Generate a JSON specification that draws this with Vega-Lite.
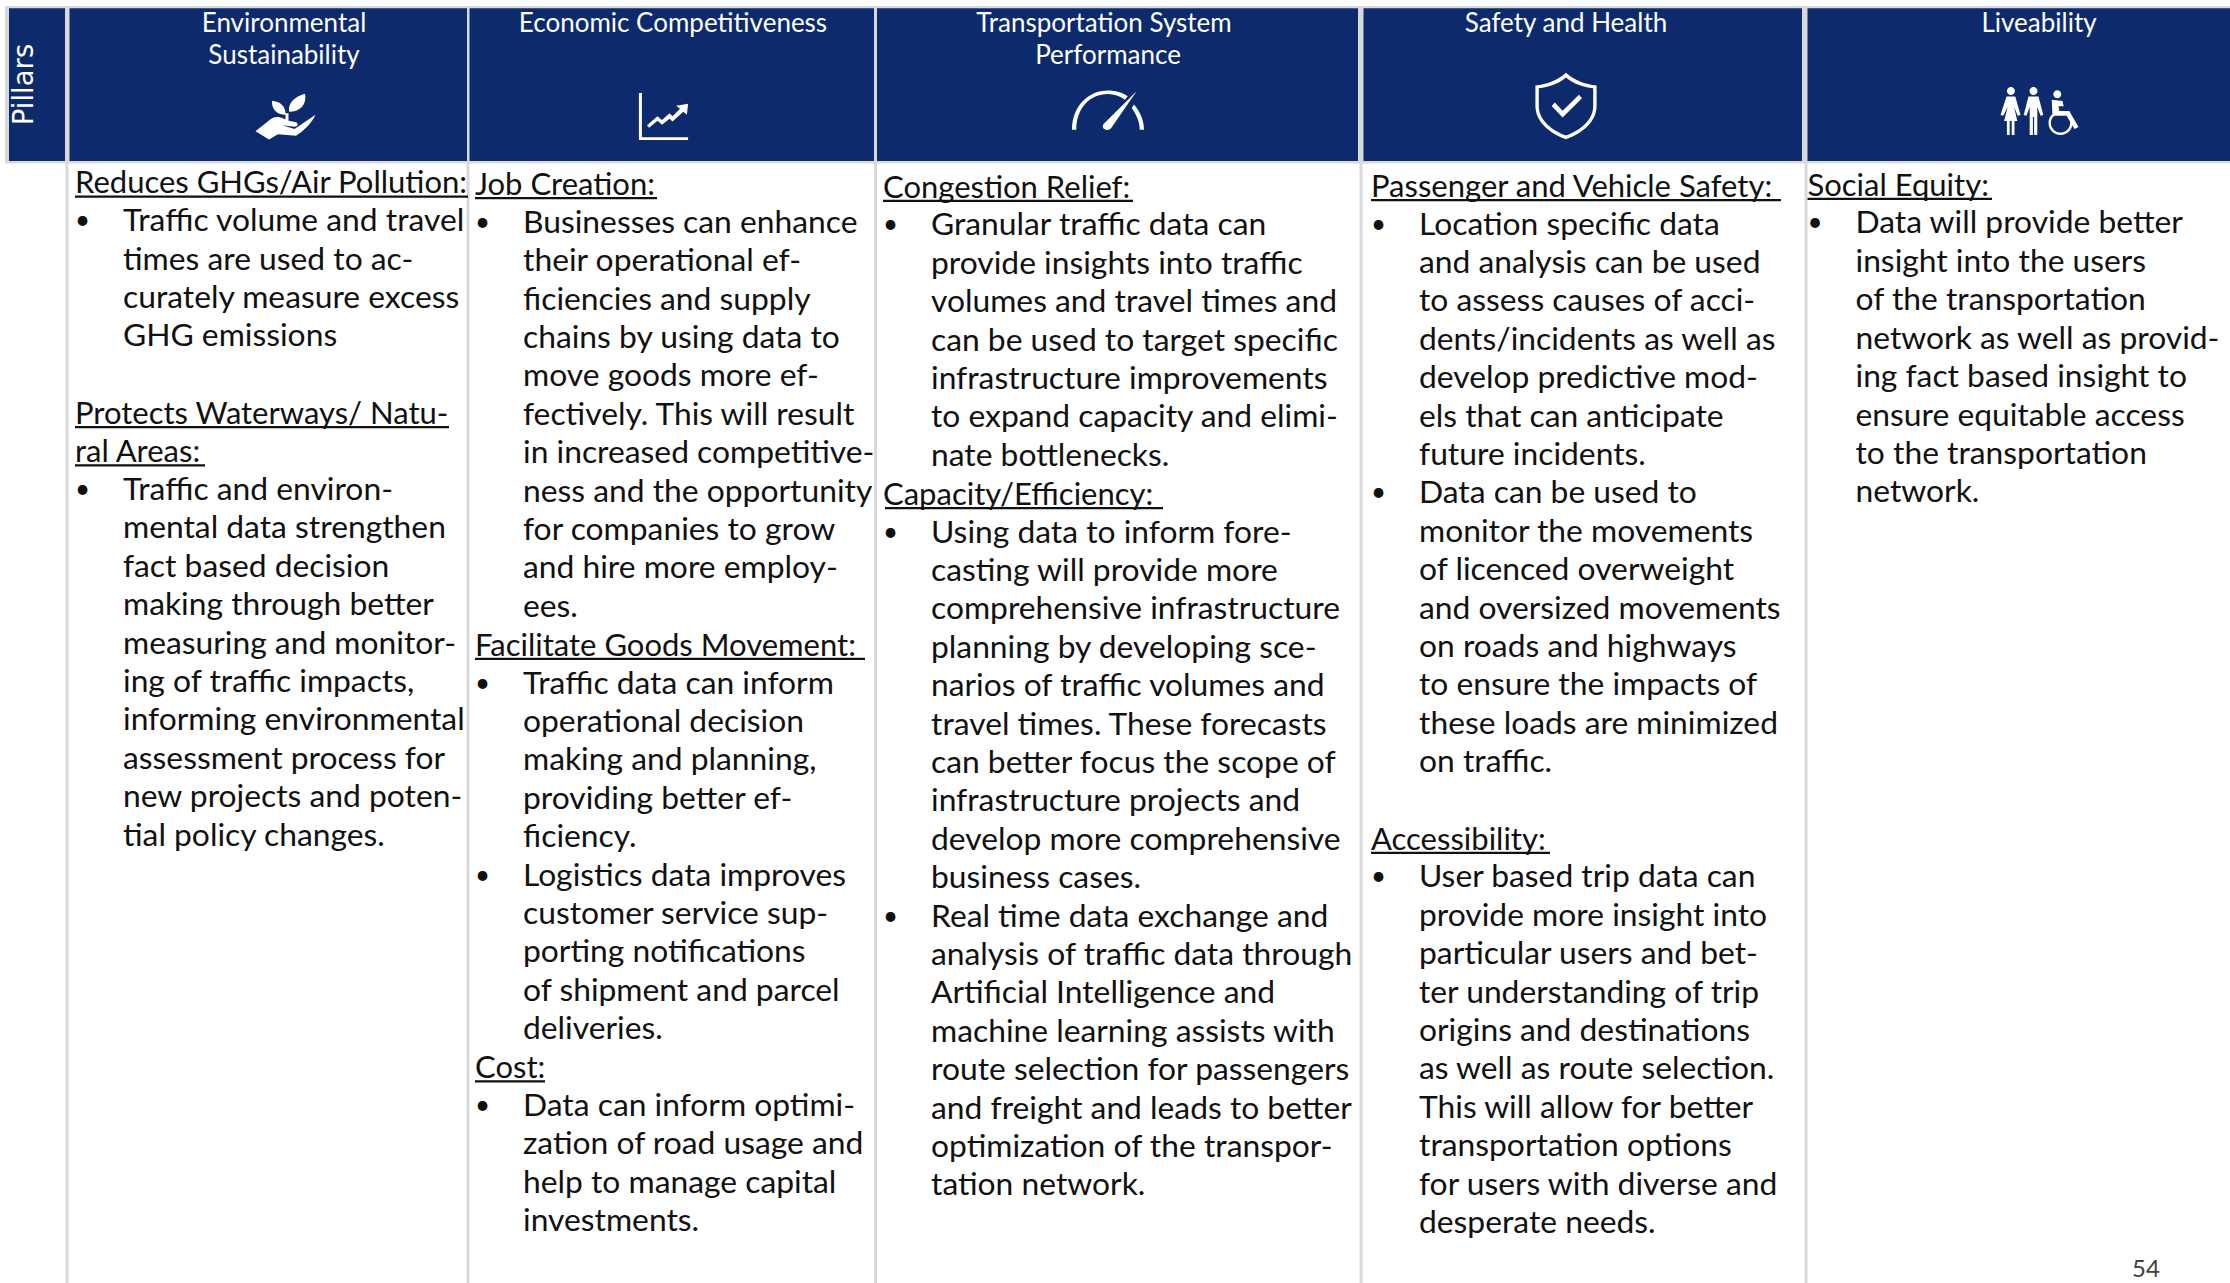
{
"$schema":"https://vega.github.io/schema/vega-lite/v6.json",
"width":2230,"height":1283,"padding":0,"autosize":{"type":"none"},"background":"white",
"config":{"view":{"stroke":null}},
"datasets":{
"pillars":[
{"pillar":"Pillars","left":9,"right":65},
{"pillar":"Environmental Sustainability","left":69.5,"right":467,"divider":67,"textLeft":75},
{"pillar":"Economic Competitiveness","left":469.5,"right":874,"divider":468,"textLeft":475},
{"pillar":"Transportation System Performance","left":877,"right":1358,"divider":875.5,"textLeft":883},
{"pillar":"Safety and Health","left":1363.5,"right":1802,"divider":1361,"textLeft":1371},
{"pillar":"Liveability","left":1807.5,"right":2230,"divider":1806,"textLeft":1807.5}
],
"headerLines":[
{"text":"Environmental","center":284,"line":0.59},
{"text":"Sustainability","center":284,"line":1.42},
{"text":"Economic Competitiveness","center":673,"line":0.59},
{"text":"Transportation System","center":1104,"line":0.59},
{"text":"Performance","center":1108,"line":1.42},
{"text":"Safety and Health","center":1566,"line":0.59},
{"text":"Liveability","center":2039,"line":0.59}
],
"icons":[
{"icon":"plant","center":285.5,"line":3.03},
{"icon":"chart","center":663.5,"line":3.03},
{"icon":"gauge","center":1108,"line":2.86},
{"icon":"shield","center":1566,"line":2.76},
{"icon":"people","center":2040.5,"line":2.89}
],
"underlines":[
{"from":75,"to":468,"line":5.12},
{"from":75,"to":449,"line":11.12},
{"from":75,"to":205,"line":12.12},
{"from":475,"to":657,"line":5.16},
{"from":475,"to":865,"line":17.16},
{"from":475,"to":545,"line":28.16},
{"from":883,"to":1133,"line":5.23},
{"from":885,"to":1163,"line":13.23},
{"from":1371,"to":1781,"line":5.21},
{"from":1371,"to":1550,"line":22.21},
{"from":1807.5,"to":1992,"line":5.18}
],
"lines":[
{"pillar":"Environmental Sustainability","kind":"heading","line":4.76,"text":"Reduces GHGs/Air Pollution:"},
{"pillar":"Environmental Sustainability","kind":"bullet","line":5.76,"text":"Traffic volume and travel"},
{"pillar":"Environmental Sustainability","kind":"body","line":6.76,"text":"times are used to ac-"},
{"pillar":"Environmental Sustainability","kind":"body","line":7.76,"text":"curately measure excess"},
{"pillar":"Environmental Sustainability","kind":"body","line":8.76,"text":"GHG emissions"},
{"pillar":"Environmental Sustainability","kind":"heading","line":10.76,"text":"Protects Waterways/ Natu-"},
{"pillar":"Environmental Sustainability","kind":"heading","line":11.76,"text":"ral Areas:"},
{"pillar":"Environmental Sustainability","kind":"bullet","line":12.76,"text":"Traffic and environ-"},
{"pillar":"Environmental Sustainability","kind":"body","line":13.76,"text":"mental data strengthen"},
{"pillar":"Environmental Sustainability","kind":"body","line":14.76,"text":"fact based decision"},
{"pillar":"Environmental Sustainability","kind":"body","line":15.76,"text":"making through better"},
{"pillar":"Environmental Sustainability","kind":"body","line":16.76,"text":"measuring and monitor-"},
{"pillar":"Environmental Sustainability","kind":"body","line":17.76,"text":"ing of traffic impacts,"},
{"pillar":"Environmental Sustainability","kind":"body","line":18.76,"text":"informing environmental"},
{"pillar":"Environmental Sustainability","kind":"body","line":19.76,"text":"assessment process for"},
{"pillar":"Environmental Sustainability","kind":"body","line":20.76,"text":"new projects and poten-"},
{"pillar":"Environmental Sustainability","kind":"body","line":21.76,"text":"tial policy changes."},
{"pillar":"Economic Competitiveness","kind":"heading","line":4.8,"text":"Job Creation:"},
{"pillar":"Economic Competitiveness","kind":"bullet","line":5.8,"text":"Businesses can enhance"},
{"pillar":"Economic Competitiveness","kind":"body","line":6.8,"text":"their operational ef-"},
{"pillar":"Economic Competitiveness","kind":"body","line":7.8,"text":"ficiencies and supply"},
{"pillar":"Economic Competitiveness","kind":"body","line":8.8,"text":"chains by using data to"},
{"pillar":"Economic Competitiveness","kind":"body","line":9.8,"text":"move goods more ef-"},
{"pillar":"Economic Competitiveness","kind":"body","line":10.8,"text":"fectively. This will result"},
{"pillar":"Economic Competitiveness","kind":"body","line":11.8,"text":"in increased competitive-"},
{"pillar":"Economic Competitiveness","kind":"body","line":12.8,"text":"ness and the opportunity"},
{"pillar":"Economic Competitiveness","kind":"body","line":13.8,"text":"for companies to grow"},
{"pillar":"Economic Competitiveness","kind":"body","line":14.8,"text":"and hire more employ-"},
{"pillar":"Economic Competitiveness","kind":"body","line":15.8,"text":"ees."},
{"pillar":"Economic Competitiveness","kind":"heading","line":16.8,"text":"Facilitate Goods Movement:"},
{"pillar":"Economic Competitiveness","kind":"bullet","line":17.8,"text":"Traffic data can inform"},
{"pillar":"Economic Competitiveness","kind":"body","line":18.8,"text":"operational decision"},
{"pillar":"Economic Competitiveness","kind":"body","line":19.8,"text":"making and planning,"},
{"pillar":"Economic Competitiveness","kind":"body","line":20.8,"text":"providing better ef-"},
{"pillar":"Economic Competitiveness","kind":"body","line":21.8,"text":"ficiency."},
{"pillar":"Economic Competitiveness","kind":"bullet","line":22.8,"text":"Logistics data improves"},
{"pillar":"Economic Competitiveness","kind":"body","line":23.8,"text":"customer service sup-"},
{"pillar":"Economic Competitiveness","kind":"body","line":24.8,"text":"porting notifications"},
{"pillar":"Economic Competitiveness","kind":"body","line":25.8,"text":"of shipment and parcel"},
{"pillar":"Economic Competitiveness","kind":"body","line":26.8,"text":"deliveries."},
{"pillar":"Economic Competitiveness","kind":"heading","line":27.8,"text":"Cost:"},
{"pillar":"Economic Competitiveness","kind":"bullet","line":28.8,"text":"Data can inform optimi-"},
{"pillar":"Economic Competitiveness","kind":"body","line":29.8,"text":"zation of road usage and"},
{"pillar":"Economic Competitiveness","kind":"body","line":30.8,"text":"help to manage capital"},
{"pillar":"Economic Competitiveness","kind":"body","line":31.8,"text":"investments."},
{"pillar":"Transportation System Performance","kind":"heading","line":4.87,"text":"Congestion Relief:"},
{"pillar":"Transportation System Performance","kind":"bullet","line":5.87,"text":"Granular traffic data can"},
{"pillar":"Transportation System Performance","kind":"body","line":6.87,"text":"provide insights into traffic"},
{"pillar":"Transportation System Performance","kind":"body","line":7.87,"text":"volumes and travel times and"},
{"pillar":"Transportation System Performance","kind":"body","line":8.87,"text":"can be used to target specific"},
{"pillar":"Transportation System Performance","kind":"body","line":9.87,"text":"infrastructure improvements"},
{"pillar":"Transportation System Performance","kind":"body","line":10.87,"text":"to expand capacity and elimi-"},
{"pillar":"Transportation System Performance","kind":"body","line":11.87,"text":"nate bottlenecks."},
{"pillar":"Transportation System Performance","kind":"heading","line":12.87,"text":" Capacity/Efficiency:"},
{"pillar":"Transportation System Performance","kind":"bullet","line":13.87,"text":"Using data to inform fore-"},
{"pillar":"Transportation System Performance","kind":"body","line":14.87,"text":"casting will provide more"},
{"pillar":"Transportation System Performance","kind":"body","line":15.87,"text":"comprehensive infrastructure"},
{"pillar":"Transportation System Performance","kind":"body","line":16.87,"text":"planning by developing sce-"},
{"pillar":"Transportation System Performance","kind":"body","line":17.87,"text":"narios of traffic volumes and"},
{"pillar":"Transportation System Performance","kind":"body","line":18.87,"text":"travel times. These forecasts"},
{"pillar":"Transportation System Performance","kind":"body","line":19.87,"text":"can better focus the scope of"},
{"pillar":"Transportation System Performance","kind":"body","line":20.87,"text":"infrastructure projects and"},
{"pillar":"Transportation System Performance","kind":"body","line":21.87,"text":"develop more comprehensive"},
{"pillar":"Transportation System Performance","kind":"body","line":22.87,"text":"business cases."},
{"pillar":"Transportation System Performance","kind":"bullet","line":23.87,"text":"Real time data exchange and"},
{"pillar":"Transportation System Performance","kind":"body","line":24.87,"text":"analysis of traffic data through"},
{"pillar":"Transportation System Performance","kind":"body","line":25.87,"text":"Artificial Intelligence and"},
{"pillar":"Transportation System Performance","kind":"body","line":26.87,"text":"machine learning assists with"},
{"pillar":"Transportation System Performance","kind":"body","line":27.87,"text":"route selection for passengers"},
{"pillar":"Transportation System Performance","kind":"body","line":28.87,"text":"and freight and leads to better"},
{"pillar":"Transportation System Performance","kind":"body","line":29.87,"text":"optimization of the transpor-"},
{"pillar":"Transportation System Performance","kind":"body","line":30.87,"text":"tation network."},
{"pillar":"Safety and Health","kind":"heading","line":4.85,"text":"Passenger and Vehicle Safety:"},
{"pillar":"Safety and Health","kind":"bullet","line":5.85,"text":"Location specific data"},
{"pillar":"Safety and Health","kind":"body","line":6.85,"text":"and analysis can be used"},
{"pillar":"Safety and Health","kind":"body","line":7.85,"text":"to assess causes of acci-"},
{"pillar":"Safety and Health","kind":"body","line":8.85,"text":"dents/incidents as well as"},
{"pillar":"Safety and Health","kind":"body","line":9.85,"text":"develop predictive mod-"},
{"pillar":"Safety and Health","kind":"body","line":10.85,"text":"els that can anticipate"},
{"pillar":"Safety and Health","kind":"body","line":11.85,"text":"future incidents."},
{"pillar":"Safety and Health","kind":"bullet","line":12.85,"text":"Data can be used to"},
{"pillar":"Safety and Health","kind":"body","line":13.85,"text":"monitor the movements"},
{"pillar":"Safety and Health","kind":"body","line":14.85,"text":"of licenced overweight"},
{"pillar":"Safety and Health","kind":"body","line":15.85,"text":"and oversized movements"},
{"pillar":"Safety and Health","kind":"body","line":16.85,"text":"on roads and highways"},
{"pillar":"Safety and Health","kind":"body","line":17.85,"text":"to ensure the impacts of"},
{"pillar":"Safety and Health","kind":"body","line":18.85,"text":"these loads are minimized"},
{"pillar":"Safety and Health","kind":"body","line":19.85,"text":"on traffic."},
{"pillar":"Safety and Health","kind":"heading","line":21.85,"text":"Accessibility:"},
{"pillar":"Safety and Health","kind":"bullet","line":22.85,"text":"User based trip data can"},
{"pillar":"Safety and Health","kind":"body","line":23.85,"text":"provide more insight into"},
{"pillar":"Safety and Health","kind":"body","line":24.85,"text":"particular users and bet-"},
{"pillar":"Safety and Health","kind":"body","line":25.85,"text":"ter understanding of trip"},
{"pillar":"Safety and Health","kind":"body","line":26.85,"text":"origins and destinations"},
{"pillar":"Safety and Health","kind":"body","line":27.85,"text":"as well as route selection."},
{"pillar":"Safety and Health","kind":"body","line":28.85,"text":"This will allow for better"},
{"pillar":"Safety and Health","kind":"body","line":29.85,"text":"transportation options"},
{"pillar":"Safety and Health","kind":"body","line":30.85,"text":"for users with diverse and"},
{"pillar":"Safety and Health","kind":"body","line":31.85,"text":"desperate needs."},
{"pillar":"Liveability","kind":"heading","line":4.82,"text":"Social Equity:"},
{"pillar":"Liveability","kind":"bullet","line":5.82,"text":"Data will provide better"},
{"pillar":"Liveability","kind":"body","line":6.82,"text":"insight into the users"},
{"pillar":"Liveability","kind":"body","line":7.82,"text":"of the transportation"},
{"pillar":"Liveability","kind":"body","line":8.82,"text":"network as well as provid-"},
{"pillar":"Liveability","kind":"body","line":9.82,"text":"ing fact based insight to"},
{"pillar":"Liveability","kind":"body","line":10.82,"text":"ensure equitable access"},
{"pillar":"Liveability","kind":"body","line":11.82,"text":"to the transportation"},
{"pillar":"Liveability","kind":"body","line":12.82,"text":"network."}
]
},
"layer":[
{"data":{"values":[{"band":"header"}]},"mark":{"type":"rect","fill":"#d9d9d9"},
 "encoding":{"x":{"datum":5,"type":"quantitative","scale":{"domain":[0,2230],"nice":false,"zero":false},"axis":null},"x2":{"datum":2230},
 "y":{"datum":0.156,"type":"quantitative","scale":{"domain":[0,33.41],"reverse":true,"nice":false,"zero":false},"axis":null},"y2":{"datum":4.26}}},
{"data":{"name":"pillars"},"transform":[{"filter":"isValid(datum.divider)"}],"mark":{"type":"rule","stroke":"#d9d9d9","strokeWidth":3},
 "encoding":{"x":{"field":"divider","type":"quantitative","scale":{"domain":[0,2230],"nice":false,"zero":false},"axis":null},
 "y":{"datum":4.2,"type":"quantitative","scale":{"domain":[0,33.41],"reverse":true,"nice":false,"zero":false},"axis":null},"y2":{"datum":33.41}}},
{"data":{"name":"pillars"},"mark":{"type":"rect","fill":"#0d2a6d"},
 "encoding":{"x":{"field":"left","type":"quantitative","scale":{"domain":[0,2230],"nice":false,"zero":false},"axis":null},"x2":{"field":"right"},
 "y":{"datum":0.216,"type":"quantitative","scale":{"domain":[0,33.41],"reverse":true,"nice":false,"zero":false},"axis":null},"y2":{"datum":4.19}}},
{"data":{"values":[{"label":"Pillars"}]},"mark":{"type":"text","font":"DejaVu Sans","fontSize":27.5,"angle":270,"align":"center","baseline":"middle","color":"white"},
 "encoding":{"x":{"datum":25,"type":"quantitative","scale":{"domain":[0,2230],"nice":false,"zero":false},"axis":null},
 "y":{"datum":2.2,"type":"quantitative","scale":{"domain":[0,33.41],"reverse":true,"nice":false,"zero":false},"axis":null},"text":{"field":"label"}}},
{"data":{"name":"headerLines"},"mark":{"type":"text","font":"Lato","fontSize":26,"align":"center","baseline":"middle","dy":1,"color":"white"},
 "encoding":{"x":{"field":"center","type":"quantitative","scale":{"domain":[0,2230],"nice":false,"zero":false},"axis":null},
 "y":{"field":"line","type":"quantitative","scale":{"domain":[0,33.41],"reverse":true,"nice":false,"zero":false},"axis":null},"text":{"field":"text"}}},
{"data":{"name":"icons"},"transform":[{"filter":"datum.icon==='plant'"}],"mark":{"type":"point","filled":true,"fill":"white","stroke":null,"opacity":1,"size":3600,
 "shape":"M-0.45 -0.52C-0.2 -0.5 0.02 -0.35 0 -0.05C-0.3 -0.05 -0.47 -0.25 -0.45 -0.52ZM0.65 -0.75C0.72 -0.4 0.5 -0.15 0.12 -0.15C0.08 -0.45 0.3 -0.65 0.65 -0.75ZM0 -0.1L0.1 -0.1L0.1 0.15L0 0.15ZM-1 0.5L-0.5 0.1C-0.3 -0.05 -0.1 0.05 0.1 0.15L0.35 0.2C0.45 0.25 0.4 0.35 0.3 0.35L-0.1 0.3L0.3 0.42L1 -0.05C0.9 0.2 0.6 0.5 0.35 0.65L-0.25 0.6L-0.55 0.77Z"},
 "encoding":{"x":{"field":"center","type":"quantitative","scale":{"domain":[0,2230],"nice":false,"zero":false},"axis":null},
 "y":{"field":"line","type":"quantitative","scale":{"domain":[0,33.41],"reverse":true,"nice":false,"zero":false},"axis":null}}},
{"data":{"name":"icons"},"transform":[{"filter":"datum.icon==='chart'"}],"mark":{"type":"point","filled":true,"fill":"white","stroke":null,"opacity":1,"size":3600,
 "shape":"M-0.82 -0.78L-0.72 -0.78L-0.72 0.7L0.82 0.7L0.82 0.79L-0.82 0.79ZM-0.55 0.3L-0.2 0L-0.05 0.12L0.2 -0.1L0.3 0L0.55 -0.25L0.42 -0.35L0.82 -0.42L0.78 -0.05L0.66 -0.15L0.3 0.17L0.2 0.08L-0.05 0.28L-0.2 0.15L-0.48 0.38Z"},
 "encoding":{"x":{"field":"center","type":"quantitative","scale":{"domain":[0,2230],"nice":false,"zero":false},"axis":null},
 "y":{"field":"line","type":"quantitative","scale":{"domain":[0,33.41],"reverse":true,"nice":false,"zero":false},"axis":null}}},
{"data":{"name":"icons"},"transform":[{"filter":"datum.icon==='gauge'"}],"mark":{"type":"point","filled":true,"fill":"white","stroke":null,"opacity":1,"size":5184,
 "shape":"M-1 0.55C-1 -0.1 -0.55 -0.54 0 -0.54C0.2 -0.54 0.4 -0.48 0.55 -0.38L0.47 -0.28C0.33 -0.38 0.17 -0.44 0 -0.44C-0.5 -0.44 -0.88 -0.05 -0.88 0.55ZM0.72 -0.15C0.9 0.05 1 0.3 1 0.55L0.88 0.55C0.88 0.35 0.8 0.15 0.66 -0.05ZM0.8 -0.52L0.08 0.52C0 0.6 -0.2 0.55 -0.13 0.4Z"},
 "encoding":{"x":{"field":"center","type":"quantitative","scale":{"domain":[0,2230],"nice":false,"zero":false},"axis":null},
 "y":{"field":"line","type":"quantitative","scale":{"domain":[0,33.41],"reverse":true,"nice":false,"zero":false},"axis":null}}},
{"data":{"name":"icons"},"transform":[{"filter":"datum.icon==='shield'"}],"mark":{"type":"point","filled":true,"fill":"white","stroke":null,"opacity":1,"size":4624,
 "shape":"M0 -0.98C0.25 -0.75 0.55 -0.65 0.9 -0.6L0.9 0C0.9 0.45 0.5 0.8 0 0.98C-0.5 0.8 -0.9 0.45 -0.9 0L-0.9 -0.6C-0.55 -0.65 -0.25 -0.75 0 -0.98ZM0 -0.84C-0.22 -0.65 -0.5 -0.56 -0.8 -0.52L-0.8 0C-0.8 0.4 -0.45 0.7 0 0.87C0.45 0.7 0.8 0.4 0.8 0L0.8 -0.52C0.5 -0.56 0.22 -0.65 0 -0.84ZM-0.42 0L-0.33 -0.1L-0.1 0.14L0.38 -0.33L0.47 -0.23L-0.1 0.34Z"},
 "encoding":{"x":{"field":"center","type":"quantitative","scale":{"domain":[0,2230],"nice":false,"zero":false},"axis":null},
 "y":{"field":"line","type":"quantitative","scale":{"domain":[0,33.41],"reverse":true,"nice":false,"zero":false},"axis":null}}},
{"data":{"name":"icons"},"transform":[{"filter":"datum.icon==='people'"}],"mark":{"type":"point","filled":true,"fill":"white","stroke":null,"opacity":1,"size":6400,
 "shape":"M-0.84 -0.5C-0.84 -0.555 -0.795 -0.6 -0.74 -0.6C-0.685 -0.6 -0.64 -0.555 -0.64 -0.5C-0.64 -0.445 -0.685 -0.4 -0.74 -0.4C-0.795 -0.4 -0.84 -0.445 -0.84 -0.5ZM-0.275 -0.5C-0.275 -0.555 -0.23 -0.6 -0.175 -0.6C-0.12 -0.6 -0.075 -0.555 -0.075 -0.5C-0.075 -0.445 -0.12 -0.4 -0.175 -0.4C-0.23 -0.4 -0.275 -0.445 -0.275 -0.5ZM0.32 -0.42C0.32 -0.475 0.365 -0.52 0.42 -0.52C0.475 -0.52 0.52 -0.475 0.52 -0.42C0.52 -0.365 0.475 -0.32 0.42 -0.32C0.365 -0.32 0.32 -0.365 0.32 -0.42ZM0.2 0.3C0.2 0.135 0.335 0 0.5 0C0.665 0 0.8 0.135 0.8 0.3C0.8 0.465 0.665 0.6 0.5 0.6C0.335 0.6 0.2 0.465 0.2 0.3ZM0.26 0.3C0.26 0.432 0.368 0.54 0.5 0.54C0.632 0.54 0.74 0.432 0.74 0.3C0.74 0.168 0.632 0.06 0.5 0.06C0.368 0.06 0.26 0.168 0.26 0.3ZM0.28 -0.28L0.55 -0.25L0.58 -0.12L0.45 -0.12L0.47 0L0.72 0L0.95 0.4L0.85 0.45L0.65 0.12L0.3 0.12ZM-0.85 -0.36L-0.63 -0.36L-0.5 0.1L-0.57 0.12L-0.66 -0.1L-0.58 0.25L-0.65 0.25L-0.65 0.6L-0.72 0.6L-0.72 0.25L-0.77 0.25L-0.77 0.6L-0.84 0.6L-0.84 0.25L-0.91 0.25L-0.82 -0.1L-0.93 0.12L-1 0.1ZM-0.3 -0.36L-0.05 -0.36L0.07 0.1L0 0.12L-0.08 -0.1L-0.08 0.6L-0.16 0.6L-0.16 0.15L-0.19 0.15L-0.19 0.6L-0.27 0.6L-0.27 -0.1L-0.35 0.12L-0.42 0.1Z"},
 "encoding":{"x":{"field":"center","type":"quantitative","scale":{"domain":[0,2230],"nice":false,"zero":false},"axis":null},
 "y":{"field":"line","type":"quantitative","scale":{"domain":[0,33.41],"reverse":true,"nice":false,"zero":false},"axis":null}}},
{"data":{"name":"underlines"},"mark":{"type":"rule","stroke":"#111111","strokeWidth":2.2},
 "encoding":{"x":{"field":"from","type":"quantitative","scale":{"domain":[0,2230],"nice":false,"zero":false},"axis":null},"x2":{"field":"to"},
 "y":{"field":"line","type":"quantitative","scale":{"domain":[0,33.41],"reverse":true,"nice":false,"zero":false},"axis":null}}},
{"data":{"name":"lines"},"transform":[{"filter":"datum.kind==='heading'"},{"lookup":"pillar","from":{"data":{"name":"pillars"},"key":"pillar","fields":["textLeft"]}}],
 "mark":{"type":"text","font":"Lato","fontSize":31,"align":"left","baseline":"middle","dy":1.5,"color":"#111111"},
 "encoding":{"x":{"field":"textLeft","type":"quantitative","scale":{"domain":[0,2230],"nice":false,"zero":false},"axis":null},
 "y":{"field":"line","type":"quantitative","scale":{"domain":[0,33.41],"reverse":true,"nice":false,"zero":false},"axis":null},"text":{"field":"text"}}},
{"data":{"name":"lines"},"transform":[{"filter":"datum.kind!=='heading'"},{"lookup":"pillar","from":{"data":{"name":"pillars"},"key":"pillar","fields":["textLeft"]}}],
 "mark":{"type":"text","font":"Lato","fontSize":31.8,"align":"left","baseline":"middle","dx":48,"dy":0,"color":"#111111"},
 "encoding":{"x":{"field":"textLeft","type":"quantitative","scale":{"domain":[0,2230],"nice":false,"zero":false},"axis":null},
 "y":{"field":"line","type":"quantitative","scale":{"domain":[0,33.41],"reverse":true,"nice":false,"zero":false},"axis":null},"text":{"field":"text"}}},
{"data":{"name":"lines"},"transform":[{"filter":"datum.kind==='bullet'"},{"lookup":"pillar","from":{"data":{"name":"pillars"},"key":"pillar","fields":["textLeft"]}}],
 "mark":{"type":"text","font":"Lato","fontSize":26,"align":"left","baseline":"middle","dx":0,"dy":0,"text":"•","color":"#111111"},
 "encoding":{"x":{"field":"textLeft","type":"quantitative","scale":{"domain":[0,2230],"nice":false,"zero":false},"axis":null},
 "y":{"field":"line","type":"quantitative","scale":{"domain":[0,33.41],"reverse":true,"nice":false,"zero":false},"axis":null}}},
{"data":{"values":[{"page":"54"}]},"mark":{"type":"text","font":"Lato","fontSize":24,"align":"center","baseline":"middle","color":"#404040"},
 "encoding":{"x":{"datum":2146,"type":"quantitative","scale":{"domain":[0,2230],"nice":false,"zero":false},"axis":null},
 "y":{"datum":33.06,"type":"quantitative","scale":{"domain":[0,33.41],"reverse":true,"nice":false,"zero":false},"axis":null},"text":{"field":"page"}}}
]
}
